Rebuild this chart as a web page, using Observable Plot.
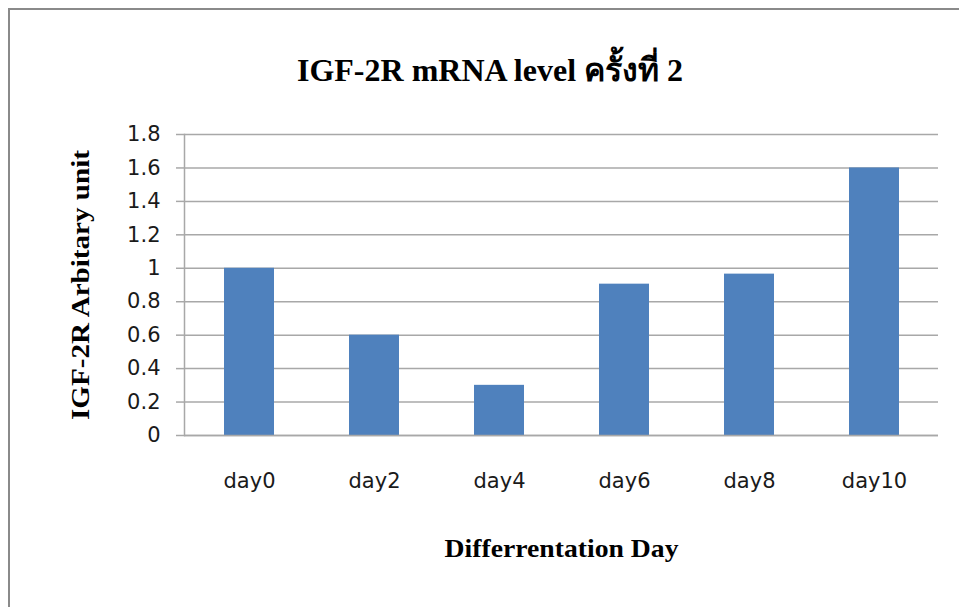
<!DOCTYPE html>
<html><head><meta charset="utf-8">
<script src="https://cdn.jsdelivr.net/npm/d3@7"></script>
<script src="https://cdn.jsdelivr.net/npm/@observablehq/plot@0.6"></script>
<style>
body{margin:0;background:#fff;}
#wrap{position:relative;width:959px;height:607px;overflow:hidden;background:#fff}
#border{position:absolute;left:8px;top:8px;width:1000px;height:1000px;border-left:2px solid #8a8a8a;border-top:2px solid #8a8a8a;}
#chart{position:absolute;left:0;top:0}
#title{position:absolute;left:0;width:980px;top:44px;text-align:center;font-weight:bold;font-size:32px;font-family:"Liberation Serif","DejaVu Serif","Noto Sans",serif;color:#000;white-space:nowrap}
</style></head>
<body>
<div id="wrap"><div id="border"></div><div id="chart"></div><div id="title">IGF-2R mRNA level ครั้งที่ 2</div></div>
<script>
const days = ["day0","day2","day4","day6","day8","day10"];
const levels = [1.0, 0.6, 0.3, 0.905, 0.965, 1.6];
const yTicks = [0, 0.2, 0.4, 0.6, 0.8, 1, 1.2, 1.4, 1.6, 1.8];
const yTickLabels = ["0","0.2","0.4","0.6","0.8","1","1.2","1.4","1.6","1.8"];
const yLabel = "IGF-2R Arbitary unit";
const xLabel = "Differrentation Day";

const data = days.map((d, i) => ({day: d, level: levels[i]}));
const serif = "'Liberation Serif','DejaVu Serif',serif";
const sans = "'DejaVu Sans',Lato,sans-serif";
const grid = "#a8a8a8";

const chart = Plot.plot({
  width: 959, height: 607,
  marginLeft: 184, marginRight: 21, marginTop: 134, marginBottom: 172,
  style: {background: "transparent", color: "#000", fontFamily: sans},
  x: {domain: days, paddingInner: 0.6, paddingOuter: 0.3, axis: null},
  y: {domain: [0, 1.8], axis: null},
  marks: [
    Plot.gridY(yTicks, {stroke: grid, strokeOpacity: 1, strokeWidth: 1.5}),
    Plot.axisY(yTicks, {label: null, tickSize: 8, tickPadding: 16, stroke: grid, strokeWidth: 1.5, fill: "#1a1a1a",
      fontSize: 21, fontFamily: sans, tickFormat: d => yTickLabels[yTicks.indexOf(d)]}),
    Plot.barY(data, {x: "day", y: "level", fill: "#4F81BD"}),
    Plot.frame({anchor: "left", stroke: grid, strokeWidth: 1.5}),
    Plot.ruleY([0], {stroke: grid, strokeWidth: 1.5}),
    Plot.axisX({label: null, tickSize: 0, tickPadding: 38, fill: "#1a1a1a", fontSize: 21, fontFamily: sans}),
    Plot.text([yLabel], {frameAnchor: "left", textAnchor: "middle", dx: -104, rotate: -90, fontSize: 25, fontWeight: "bold", fontFamily: serif, fill: "#000", className: "ylab"}),
    Plot.text([xLabel], {frameAnchor: "bottom", textAnchor: "middle", dy: 121, fontSize: 26, fontWeight: "bold", fontFamily: serif, fill: "#000", className: "xlab"})
  ]
});
document.getElementById("chart").appendChild(chart);
// squeeze the axis titles to the reference's condensed widths
const yl = chart.querySelector(".ylab text");
if (yl) { yl.setAttribute("textLength", 270); yl.setAttribute("lengthAdjust", "spacingAndGlyphs"); }
const xl = chart.querySelector(".xlab text");
if (xl) { xl.setAttribute("textLength", 234); xl.setAttribute("lengthAdjust", "spacingAndGlyphs"); }
</script>
</body></html>
